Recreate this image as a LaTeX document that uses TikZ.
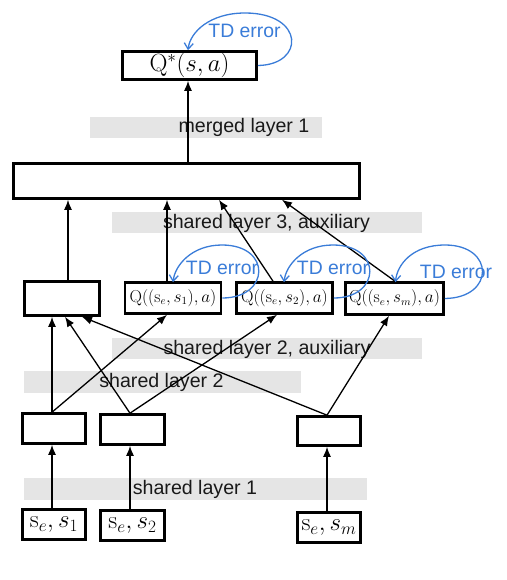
\documentclass[tikz,border=0pt]{standalone}
\usepackage[no-math]{fontspec}
\setmainfont{Liberation Sans}
\usetikzlibrary{arrows.meta}
\definecolor{tdblue}{RGB}{58,124,216}
\definecolor{bandgray}{RGB}{229,229,229}
\begin{document}
\begin{tikzpicture}[x=1pt,y=-1pt,
  box/.style={draw=black,line width=2.6pt,fill=white,inner sep=0pt,minimum width=#1},
  lbl/.style={text=black!90,font=\fontsize{19.6}{22}\selectfont,inner sep=0pt},
  tdl/.style={text=tdblue,font=\fontsize{19.4}{22}\selectfont,inner sep=0pt},
  band/.style={fill=bandgray,draw=none},
  arr/.style={line width=1.3pt,-{Latex[length=10pt,width=8pt]}},
  tdarr/.style={tdblue,line width=1.3pt,-{Straight Barb[length=6pt,width=9pt]}},
  big/.style={font=\fontsize{24}{28}\selectfont},
  small/.style={font=\fontsize{16}{19}\selectfont}]
\useasboundingbox (0,0) rectangle (506,580);
% bands
\fill[band] (90,117) rectangle (322,138);
\fill[band] (112,212) rectangle (422,233);
\fill[band] (112,338) rectangle (422,359);
\fill[band] (24,371) rectangle (301,393);
\fill[band] (24,478) rectangle (367,500);
% band labels
\node[lbl] (lm) at (244,127.5) {merged layer 1};
\node[lbl] (l3) at (266.5,223.5) {shared layer 3, auxiliary};
\node[lbl] (l2a) at (267,349.5) {shared layer 2, auxiliary};
\node[lbl] (l2) at (161.5,382.5) {shared layer 2};
\node[lbl] (l1) at (195,489.5) {shared layer 1};
% boxes
\node[box=134pt,minimum height=28pt,big] (qstar) at (189.5,65.5) {$\mathrm{Q}^*(s,a)$};
\node[box=346pt,minimum height=35pt] (merged) at (186.5,181) {};
\node[box=75pt,minimum height=34pt] (aux) at (62,298.5) {};
\node[box=96pt,minimum height=31pt,small] (q1) at (173,298) {$\mathrm{Q}((\mathrm{s}_e,s_1),a)$};
\node[box=96pt,minimum height=31pt,small] (q2) at (284.5,298) {$\mathrm{Q}((\mathrm{s}_e,s_2),a)$};
\node[box=98pt,minimum height=32pt,small] (qm) at (394.5,298.5) {$\mathrm{Q}((\mathrm{s}_e,s_m),a)$};
\node[box=63pt,minimum height=30pt] (h1) at (54,428.5) {};
\node[box=64pt,minimum height=30pt] (h2) at (132.5,429.5) {};
\node[box=63pt,minimum height=29pt] (h3) at (329,431) {};
\node[box=63pt,minimum height=30pt,big] (in1) at (54,524.5) {$\mathrm{s}_e,s_1$};
\node[box=64pt,minimum height=30pt,big] (in2) at (132.5,525.5) {$\mathrm{s}_e,s_2$};
\node[box=63pt,minimum height=30pt,big] (in3) at (329,527.5) {$\mathrm{s}_e,s_m$};
% connectors
\draw[arr] ([xshift=-2pt]in1.north) -- ([xshift=-2pt]h1.south);
\draw[arr] ([xshift=-2.5pt]in2.north) -- ([xshift=-2.5pt]h2.south);
\draw[arr] ([xshift=-2pt]in3.north) -- ([xshift=-2pt]h3.south);
\draw[arr] ([xshift=-2pt]h1.north) -- ([xshift=-10pt]aux.south);
\draw[arr] ([xshift=-2pt]h1.north) -- ([xshift=-6pt]q1.south);
\draw[arr] ([xshift=-2.5pt]h2.north) -- ([xshift=3pt]aux.south);
\draw[arr] ([xshift=-2.5pt]h2.north) -- ([xshift=-7.5pt]q2.south);
\draw[arr] ([xshift=-2pt]h3.north) -- ([xshift=20pt]aux.south);
\draw[arr] ([xshift=-2pt]h3.north) -- ([xshift=-5.5pt]qm.south);
\draw[arr] ([xshift=6pt]aux.north) -- ([xshift=-118.5pt]merged.south);
\draw[arr] ([xshift=-6pt]q1.north) -- ([xshift=-19.5pt]merged.south);
\draw[arr] ([xshift=-11.5pt]q2.north) -- ([xshift=32.5pt]merged.south);
\draw[arr] ([xshift=0.5pt]qm.north) -- ([xshift=95.5pt]merged.south);
\draw[arr] ([xshift=1.5pt]merged.north) -- ([xshift=-1.5pt]qstar.south);
% TD error loops
\draw[tdarr] (qstar.east) .. controls (305,65) and (305,13) .. (245,13) .. controls (210,13) and (190,32) .. ([xshift=-1.5pt]qstar.north);
\node[tdl] (td0) at (244.5,31) {TD error};
\draw[tdarr] (q1.east) .. controls (270,298) and (272,245) .. (222,245) .. controls (192,245) and (175,265) .. ([yshift=-1pt]q1.north);
\node[tdl] (td1) at (222,268) {TD error};
\draw[tdarr] (q2.east) .. controls (381,298) and (383,245) .. (333,245) .. controls (303,245) and (286,265) .. ([yshift=-1pt,xshift=-0.5pt]q2.north);
\node[tdl] (td2) at (333,268) {TD error};
\draw[tdarr] (qm.east) .. controls (495,298) and (495,245) .. (445,245) .. controls (412,245) and (397,265) .. ([yshift=-1pt,xshift=1pt]qm.north);
\node[tdl] (tdm) at (456,272) {TD error};
\end{tikzpicture}
\end{document}
